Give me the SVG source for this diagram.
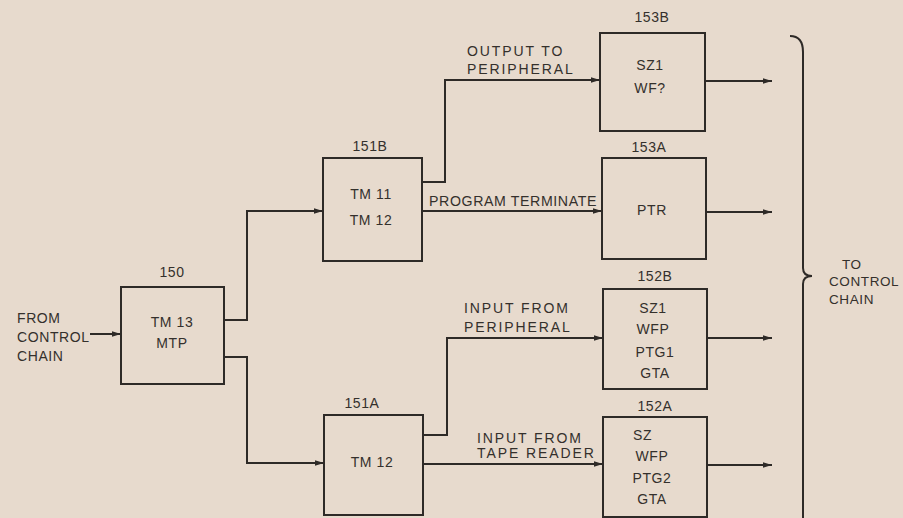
<svg xmlns="http://www.w3.org/2000/svg" width="903" height="518" viewBox="0 0 903 518">
<defs>
<marker id="ah" markerWidth="10" markerHeight="8" refX="9" refY="4" orient="auto" markerUnits="userSpaceOnUse">
<path d="M0,1.2 L9,4 L0,6.8 Z" fill="#2e2a27"/>
</marker>
</defs>
<style>
.bg{fill:#e7dacd}
.box{fill:none;stroke:#2e2a27;stroke-width:2}
.ln{fill:none;stroke:#2e2a27;stroke-width:2}
.t{font-family:"Liberation Sans","DejaVu Sans",sans-serif;font-size:14px;fill:#34302c;letter-spacing:0.6px}
.w{letter-spacing:1.9px}
.c{text-anchor:middle}
.s{font-size:13.5px}
</style>
<rect class="bg" x="0" y="0" width="903" height="518"/>

<g id="connectors">
<path class="ln" d="M90,334 H121" marker-end="url(#ah)"/>
<path class="ln" d="M224,320 H247 V211 H323" marker-end="url(#ah)"/>
<path class="ln" d="M224,357 H247 V463 H324" marker-end="url(#ah)"/>
<path class="ln" d="M422,182 H445 V80 H600" marker-end="url(#ah)"/>
<path class="ln" d="M422,211 H602" marker-end="url(#ah)"/>
<path class="ln" d="M423,435 H447 V338 H603" marker-end="url(#ah)"/>
<path class="ln" d="M423,464 H603" marker-end="url(#ah)"/>
<path class="ln" d="M705,81 H772" marker-end="url(#ah)"/>
<path class="ln" d="M706,212 H772" marker-end="url(#ah)"/>
<path class="ln" d="M707,338 H772" marker-end="url(#ah)"/>
<path class="ln" d="M707,465 H772" marker-end="url(#ah)"/>
<text class="t" x="17" y="323">FROM</text>
<text class="t" x="17" y="342">CONTROL</text>
<text class="t" x="17" y="361">CHAIN</text>
<text class="t w" x="467" y="56">OUTPUT TO</text>
<text class="t w" x="467" y="74">PERIPHERAL</text>
<text class="t" x="429" y="206" textLength="168" lengthAdjust="spacingAndGlyphs">PROGRAM TERMINATE</text>
<text class="t w" x="464" y="313">INPUT FROM</text>
<text class="t w" x="464" y="332">PERIPHERAL</text>
<text class="t w" x="477" y="443">INPUT FROM</text>
<text class="t w" x="477" y="458">TAPE READER</text>
</g>

<g id="brace">
<path class="ln" d="M790,36 Q803,36 803,52 V268 Q803,276 812,276 Q803,276 803,284 V518"/>
<text class="t s" x="842" y="269">TO</text>
<text class="t s" x="829" y="286">CONTROL</text>
<text class="t s" x="829" y="304">CHAIN</text>
</g>

<g id="n150">
<rect class="box" x="121" y="287" width="103" height="97"/>
<text class="t c" x="172" y="277">150</text>
<text class="t c" x="172" y="327">TM 13</text>
<text class="t c" x="172" y="348">MTP</text>
</g>

<g id="n151B">
<rect class="box" x="323" y="158" width="99" height="103"/>
<text class="t c" x="370" y="151">151B</text>
<text class="t c" x="371" y="199">TM 11</text>
<text class="t c" x="371" y="225">TM 12</text>
</g>

<g id="n151A">
<rect class="box" x="324" y="415" width="99" height="100"/>
<text class="t c" x="362" y="408">151A</text>
<text class="t c" x="372" y="467">TM 12</text>
</g>

<g id="n153B">
<rect class="box" x="600" y="33" width="105" height="98"/>
<text class="t c" x="652" y="22">153B</text>
<text class="t c" x="650" y="70">SZ1</text>
<text class="t c" x="650" y="93">WF?</text>
</g>

<g id="n153A">
<rect class="box" x="602" y="158" width="104" height="101"/>
<text class="t c" x="649" y="152">153A</text>
<text class="t c" x="652" y="215">PTR</text>
</g>

<g id="n152B">
<rect class="box" x="603" y="289" width="104" height="100"/>
<text class="t c" x="655" y="281">152B</text>
<text class="t c" x="653" y="313">SZ1</text>
<text class="t c" x="653" y="334">WFP</text>
<text class="t c" x="655" y="357">PTG1</text>
<text class="t c" x="655" y="378">GTA</text>
</g>

<g id="n152A">
<rect class="box" x="603" y="417" width="104" height="100"/>
<text class="t c" x="655" y="411">152A</text>
<text class="t" x="633" y="440">SZ</text>
<text class="t c" x="652" y="461">WFP</text>
<text class="t c" x="652" y="483">PTG2</text>
<text class="t c" x="652" y="504">GTA</text>
</g>
</svg>
